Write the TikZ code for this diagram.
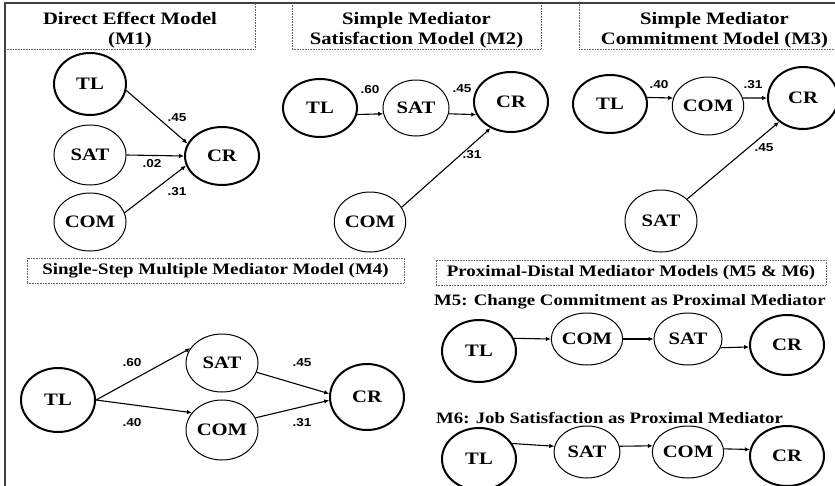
\documentclass[tikz,border=0pt]{standalone}
\usepackage{fontspec}
\setmainfont{Liberation Serif}[FakeStretch=1.18]
\newfontfamily\numfont{Liberation Sans}[FakeStretch=1.18]
\usetikzlibrary{shapes.geometric,arrows.meta}
\tikzset{
  lat/.style={ellipse, draw=black, line width=1pt, inner sep=0pt,
    font=\fontsize{17.5}{18}\selectfont\bfseries},
  lath/.style={lat, line width=2pt},
  pth/.style={-{Latex[length=5pt,width=4.5pt]}, line width=1.1pt},
  coef/.style={font=\numfont\fontsize{11.5}{12}\selectfont\bfseries, inner sep=0pt},
  titlebox/.style={draw=black!60, densely dotted, line width=0.6pt, inner sep=0pt},
  titletext/.style={align=center, inner sep=0pt, font=\fontsize{17.5}{20}\selectfont\bfseries},
  smalltitle/.style={inner sep=0pt, font=\fontsize{16}{19}\selectfont\bfseries},
  sublabel/.style={inner sep=0pt, anchor=west, font=\fontsize{15.9}{19}\selectfont\bfseries},
}
\begin{document}
\begin{tikzpicture}[x=1pt,y=-1pt]
\useasboundingbox (0,0) rectangle (835,485);
\clip (0,0) rectangle (835,485);

% title boxes
\node[titlebox, minimum width=250pt, minimum height=46pt] (T1) at (130,26) {};
\node[titlebox, minimum width=249pt, minimum height=46pt] (T2) at (416.5,26) {};
\node[titlebox, minimum width=271pt, minimum height=46pt] (T3) at (714.5,26) {};
\node[titlebox, minimum width=377pt, minimum height=25pt] (T4) at (215.5,270.5) {};
\node[titlebox, minimum width=390pt, minimum height=25pt] (T5) at (631,272.5) {};
\node[titletext] (T1t) at (130,30.5) {Direct Effect Model\\(M1)};
\node[titletext] (T2t) at (416.5,30.5) {Simple Mediator\\Satisfaction Model (M2)};
\node[titletext] (T3t) at (714.5,30.5) {Simple Mediator\\Commitment Model (M3)};
\node[smalltitle] (T4t) at (215.5,271) {Single-Step Multiple Mediator Model (M4)};
\node[smalltitle] (T5t) at (631,273) {Proximal-Distal Mediator Models (M5 \& M6)};

% outer frame
\draw[line width=1.5pt, black!75] (5,500) -- (5,3) -- (850,3);

% M1
\node[lath, minimum width=72pt, minimum height=62pt] (TL1) at (90,84) {TL};
\node[lat, minimum width=72pt, minimum height=60pt] (SAT1) at (90,155) {SAT};
\node[lat, minimum width=72pt, minimum height=58pt] (COM1) at (90,222) {COM};
\node[lath, minimum width=74pt, minimum height=58pt] (CR1) at (222,156) {CR};
\draw[pth] (TL1.-10) -- (CR1.160);
\draw[pth] (SAT1.east) -- (CR1.west);
\draw[pth] (COM1.15) -- (CR1.195);
\node[coef] (c11) at (177,118) {.45};
\node[coef] (c12) at (152,164) {.02};
\node[coef] (c13) at (177,192) {.31};

% M2
\node[lath, minimum width=74pt, minimum height=58pt] (TL2) at (320,108) {TL};
\node[lat, minimum width=66pt, minimum height=56pt] (SAT2) at (416,108) {SAT};
\node[lath, minimum width=74pt, minimum height=60pt] (CR2) at (511,102) {CR};
\node[lat, minimum width=70pt, minimum height=60pt] (COM2) at (370,222) {COM};
\draw[pth] (TL2.-10) -- (SAT2.190);
\draw[pth] (SAT2.-10) -- (CR2.200);
\draw[pth] (COM2.25) -- (CR2.232);
\node[coef] (c21) at (370,90) {.60};
\node[coef] (c22) at (462,89) {.45};
\node[coef] (c23) at (472,155) {.31};

% M3
\node[lath, minimum width=74pt, minimum height=58pt] (TL3) at (610,104) {TL};
\node[lat, minimum width=70pt, minimum height=58pt] (COM3) at (708,106) {COM};
\node[lath, minimum width=70pt, minimum height=62pt] (CR3) at (803,98) {CR};
\node[lat, minimum width=72pt, minimum height=62pt] (SAT3) at (661,221) {SAT};
\draw[pth] (TL3.10) -- (COM3.167);
\draw[pth] (COM3.13) -- (CR3.180);
\draw[pth] (SAT3.40) -- (CR3.225);
\node[coef] (c31) at (659,85) {.40};
\node[coef] (c32) at (753,85) {.31};
\node[coef] (c33) at (764,148) {.45};

% M4
\node[lath, minimum width=74pt, minimum height=64pt] (TL4) at (58,400) {TL};
\node[lat, minimum width=72pt, minimum height=58pt] (SAT4) at (222,363) {SAT};
\node[lat, minimum width=72pt, minimum height=60pt] (COM4) at (222,430) {COM};
\node[lath, minimum width=74pt, minimum height=66pt] (CR4) at (367,397) {CR};
\draw[pth] (TL4.east) -- (SAT4.155);
\draw[pth] (TL4.east) -- (COM4.150);
\draw[pth] (SAT4.-15) -- (CR4.175);
\draw[pth] (COM4.20) -- (CR4.185);
\node[coef] (c41) at (132,363) {.60};
\node[coef] (c42) at (132,423) {.40};
\node[coef] (c43) at (302,363) {.45};
\node[coef] (c44) at (302,423) {.31};

% M5
\node[sublabel] (L5) at (434,302) {M5: Change Commitment as Proximal Mediator};
\node[lath, minimum width=74pt, minimum height=62pt] (TL5) at (479,351) {TL};
\node[lat, minimum width=66pt, minimum height=52pt] (COM5) at (587,339) {COM};
\node[lat, minimum width=68pt, minimum height=52pt] (SAT5) at (688,339) {SAT};
\node[lath, minimum width=74pt, minimum height=60pt] (CR5) at (787,345) {CR};
\draw[pth] (TL5.20) -- (COM5.west);
\draw[pth] (COM5.east) -- (SAT5.west);
\draw[pth] (SAT5.-15) -- (CR5.183);

% M6
\node[sublabel] (L6) at (436,418) {M6: Job Satisfaction as Proximal Mediator};
\node[lath, minimum width=74pt, minimum height=62pt] (TL6) at (479,459) {TL};
\node[lat, minimum width=66pt, minimum height=52pt] (SAT6) at (587,452) {SAT};
\node[lat, minimum width=68pt, minimum height=52pt] (COM6) at (688,452) {COM};
\node[lath, minimum width=74pt, minimum height=60pt] (CR6) at (787,456) {CR};
\draw[pth] (TL6.25) -- (SAT6.170);
\draw[pth] (SAT6.10) -- (COM6.170);
\draw[pth] (COM6.5) -- (CR6.170);
\end{tikzpicture}
\end{document}
